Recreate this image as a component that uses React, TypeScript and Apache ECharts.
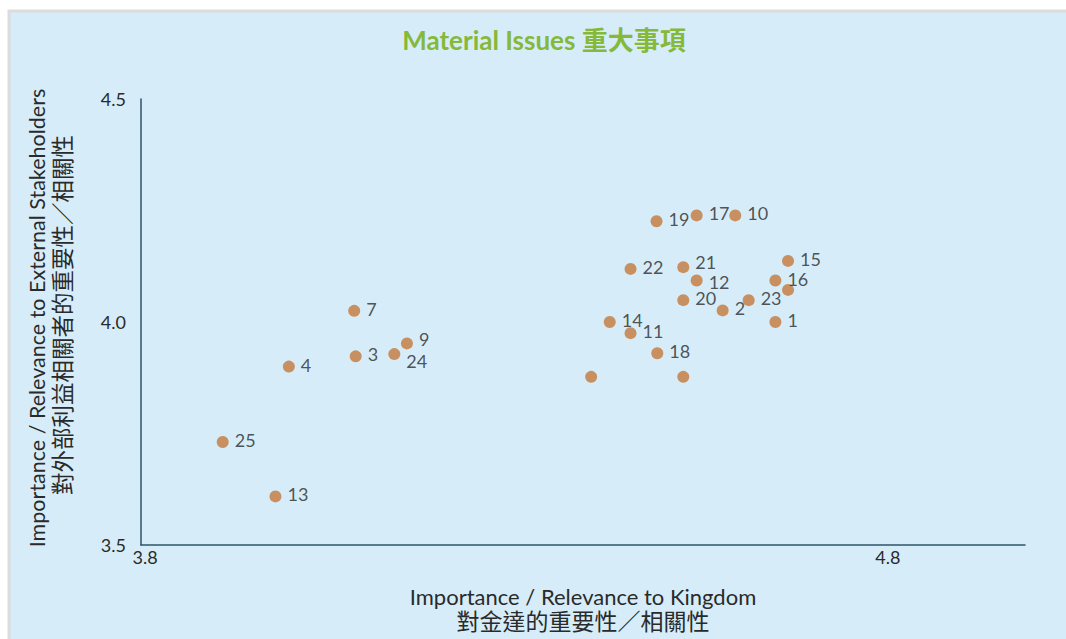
import React, { useEffect, useRef } from "react";
import * as echarts from "echarts";

const issueLabels = ["1", "2", "3", "4", "5", "6", "7", "8", "9", "10", "11", "12", "13", "14", "15", "16", "17", "18", "19", "20", "21", "22", "23", "24", "25"];
const kingdomValues = [4.654, 4.583, 4.089, 3.999, 4.671, 4.406, 4.087, 4.530, 4.158, 4.600, 4.459, 4.548, 3.981, 4.431, 4.671, 4.654, 4.548, 4.495, 4.494, 4.530, 4.530, 4.459, 4.618, 4.141, 3.910];
const stakeholderValues = [4.000, 4.026, 3.923, 3.900, 4.072, 3.877, 4.025, 3.877, 3.952, 4.239, 3.975, 4.093, 3.609, 4.000, 4.137, 4.093, 4.239, 3.930, 4.226, 4.049, 4.123, 4.119, 4.049, 3.928, 3.731];
const hiddenLabels = ["5", "6", "8"];

const xTickValues = [3.8, 4.8];
const yTickValues = [3.5, 4.0, 4.5];

const titleText = "Material Issues 重大事項";
const xTitleEn = "Importance / Relevance to Kingdom";
const xTitleZh = "對金達的重要性／相關性";
const yTitleEn = "Importance / Relevance to External Stakeholders";
const yTitleZh = "對外部利益相關者的重要性／相關性";

export default function App() {
  const ref = useRef<HTMLDivElement>(null);
  useEffect(() => {
    if (!ref.current) return;
    const chart = echarts.init(ref.current, null, { renderer: "svg" });
    const font = "Lato, 'Noto Sans CJK TC', sans-serif";
    const txt = "#2a2a2a";
    const offsets: Record<string, number[]> = { "24": [0, 7], "9": [0, -4], "21": [0, -5], "12": [0, 1] };
    const data = issueLabels.map((n, i) => ({
      name: n,
      value: [kingdomValues[i], stakeholderValues[i]],
      label: {
        show: hiddenLabels.indexOf(n) < 0,
        offset: offsets[n] || [0, -2],
      },
    }));
    chart.setOption({
      animation: false,
      backgroundColor: "#ffffff",
      grid: { left: 141, top: 99, width: 884, height: 446, containLabel: false },
      xAxis: {
        type: "value",
        min: xTickValues[0],
        max: 4.99,
        interval: xTickValues[1] - xTickValues[0],
        splitLine: { show: false },
        axisTick: { show: false },
        axisLine: { show: true, onZero: false, lineStyle: { color: "#2c5566", width: 1.5 } },
        axisLabel: {
          showMaxLabel: false,
          fontSize: 18,
          color: txt,
          fontFamily: font,
          margin: 3,
          padding: [0, 0, 0, 8],
          formatter: (v: number) => (xTickValues.some((t) => Math.abs(t - v) < 1e-6) ? v.toFixed(1) : ""),
        },
      },
      yAxis: {
        type: "value",
        min: yTickValues[0],
        max: yTickValues[yTickValues.length - 1],
        interval: 0.5,
        splitLine: { show: false },
        axisTick: { show: false },
        axisLine: { show: true, onZero: false, lineStyle: { color: "#2c5566", width: 1.5 } },
        axisLabel: {
          fontSize: 18,
          color: txt,
          fontFamily: font,
          margin: 15,
          formatter: (v: number) => v.toFixed(1),
        },
      },
      series: [
        {
          type: "scatter",
          symbolSize: 12,
          itemStyle: { color: "#c4783a" },
          label: {
            position: "right",
            distance: 6,
            fontSize: 18,
            color: txt,
            fontFamily: font,
            formatter: (p: any) => p.name,
          },
          data,
        },
      ],
      graphic: [
        {
          type: "rect",
          z: -10,
          shape: { x: 9, y: 11, width: 1062, height: 640 },
          style: { fill: "#d6edf9", stroke: "#dcdcdc", lineWidth: 3 },
          silent: true,
        },
        {
          type: "text",
          x: 544,
          y: 40,
          style: {
            text: titleText,
            fill: "#86b83a",
            font: `bold 26px ${font}`,
            textAlign: "center",
            textVerticalAlign: "middle",
          },
        },
        {
          type: "text",
          x: 583,
          y: 596,
          style: { text: xTitleEn, fill: txt, font: `22px ${font}`, textAlign: "center", textVerticalAlign: "middle" },
        },
        {
          type: "text",
          x: 583,
          y: 621,
          style: { text: xTitleZh, fill: txt, font: `23px ${font}`, textAlign: "center", textVerticalAlign: "middle" },
        },
        {
          type: "text",
          x: 37,
          y: 318,
          rotation: Math.PI / 2,
          style: { text: yTitleEn, fill: txt, font: `21.5px ${font}`, textAlign: "center", textVerticalAlign: "middle" },
        },
        {
          type: "text",
          x: 62,
          y: 315,
          rotation: Math.PI / 2,
          style: { text: yTitleZh, fill: txt, font: `22.5px ${font}`, textAlign: "center", textVerticalAlign: "middle" },
        },
      ],
    });
    return () => chart.dispose();
  }, []);
  return <div ref={ref} style={{ position: "fixed", left: 0, top: 0, width: 1066, height: 639 }} />;
}
